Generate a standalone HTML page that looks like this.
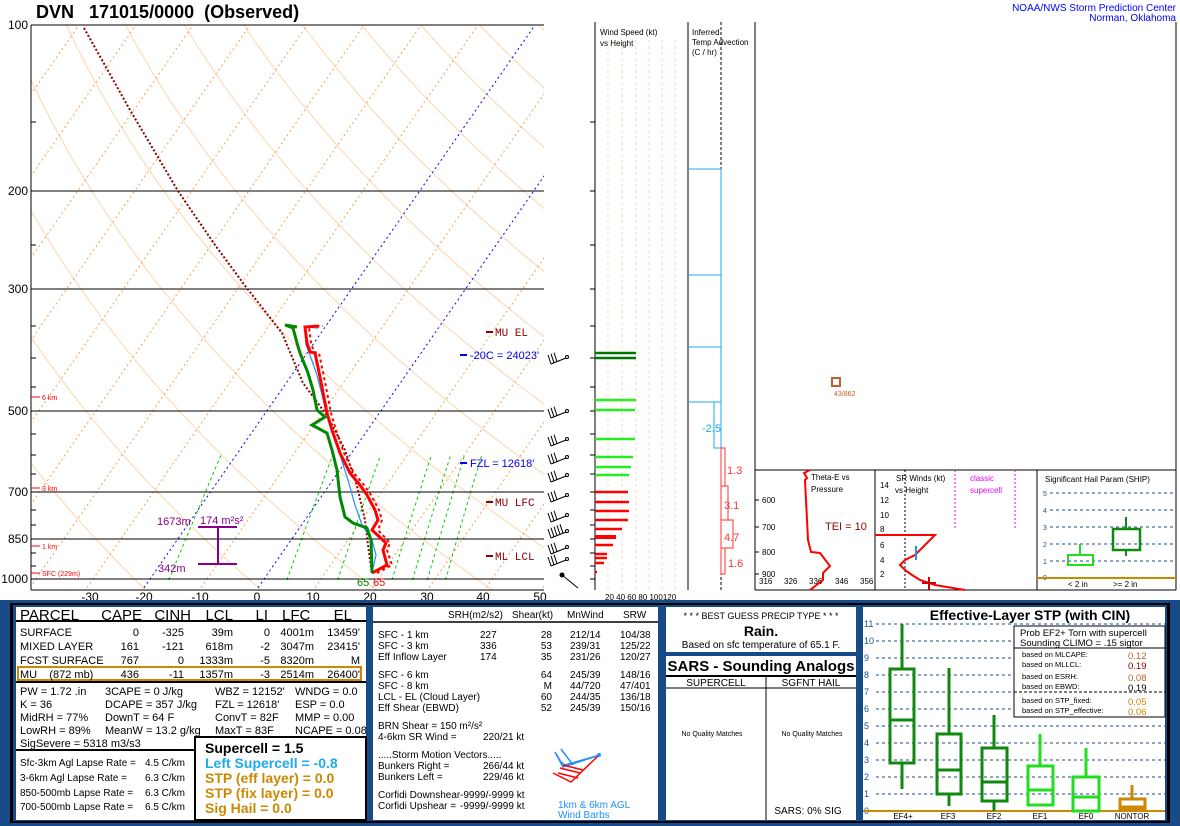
<!DOCTYPE html>
<html><head><meta charset="utf-8">
<style>
html,body{margin:0;padding:0;background:#fff;}
svg{display:block;font-family:"Liberation Sans",sans-serif;}
</style></head>
<body>
<svg id="s" width="1180" height="826" viewBox="0 0 1180 826" xmlns="http://www.w3.org/2000/svg">
<rect width="1180" height="826" fill="#fff"/>
<defs><clipPath id="skc"><rect x="31" y="25" width="513" height="565"/></clipPath></defs>
<g id="grid" clip-path="url(#skc)"></g>

<g stroke="#000" stroke-width="1">
<line x1="31" y1="191" x2="544" y2="191"/>
<line x1="31" y1="289" x2="544" y2="289"/>
<line x1="31" y1="411" x2="544" y2="411"/>
<line x1="31" y1="492" x2="544" y2="492"/>
<line x1="31" y1="539" x2="544" y2="539"/>
<line x1="31" y1="579" x2="544" y2="579"/>
<line x1="31" y1="25" x2="544" y2="25"/>
<line x1="31" y1="25" x2="31" y2="590"/>
<line x1="31" y1="590" x2="544" y2="590"/>
<line x1="31" y1="122" x2="36" y2="122"/><line x1="31" y1="245" x2="36" y2="245"/>
<line x1="31" y1="326" x2="36" y2="326"/><line x1="31" y1="358" x2="36" y2="358"/>
<line x1="31" y1="387" x2="36" y2="387"/><line x1="31" y1="434" x2="36" y2="434"/>
<line x1="31" y1="455" x2="36" y2="455"/><line x1="31" y1="474" x2="36" y2="474"/>
<line x1="31" y1="510" x2="36" y2="510"/><line x1="31" y1="525" x2="36" y2="525"/>
<line x1="31" y1="553" x2="36" y2="553"/><line x1="31" y1="566" x2="36" y2="566"/>
</g>
<g font-size="12" fill="#000" text-anchor="end">
<text x="28" y="29">100</text><text x="28" y="195">200</text><text x="28" y="293">300</text>
<text x="28" y="415">500</text><text x="28" y="496">700</text><text x="28" y="543">850</text><text x="28" y="583">1000</text>
</g>
<g font-size="12" fill="#000" text-anchor="middle">
<text x="90" y="601">-30</text><text x="144" y="601">-20</text><text x="200" y="601">-10</text>
<text x="257" y="601">0</text><text x="313" y="601">10</text><text x="370" y="601">20</text>
<text x="427" y="601">30</text><text x="483" y="601">40</text><text x="540" y="601">50</text>
</g>
<text x="36" y="18" font-size="18" font-weight="bold" xml:space="preserve">DVN   171015/0000  (Observed)</text>
<text x="1176" y="11" font-size="10" fill="#0000ff" text-anchor="end">NOAA/NWS Storm Prediction Center</text>
<text x="1176" y="21" font-size="10" fill="#0000ff" text-anchor="end">Norman, Oklahoma</text>

<g stroke="#ff0000" stroke-width="1"><line x1="31" y1="397" x2="40" y2="397"/><line x1="31" y1="488" x2="40" y2="488"/><line x1="31" y1="546" x2="40" y2="546"/><line x1="31" y1="573" x2="40" y2="573"/></g>
<g font-size="7" fill="#ff0000"><text x="42" y="400">6 km</text><text x="42" y="491">3 km</text><text x="42" y="549">1 km</text><text x="42" y="576">SFC (229m)</text></g>

<g stroke="#880088" stroke-width="2"><line x1="198" y1="527" x2="237" y2="527"/><line x1="198" y1="564" x2="237" y2="564"/><line x1="218" y1="527" x2="218" y2="564"/></g>
<g font-size="11" fill="#880088"><text x="157" y="525">1673m</text><text x="200" y="524">174 m²s²</text><text x="158" y="572">342m</text></g>

<polyline fill="none" stroke="#8b0000" stroke-width="2" stroke-dasharray="2,2" points="84,28 130,110 178,191 215,245 246,287 282,333 303,383 328,417 345,450 357,486 365,520 368,545 371,567"/>
<polyline fill="none" stroke="#ff0000" stroke-width="2" stroke-dasharray="3,3" points="377,573 392,565 387,550 390,543 378,530 382,520 379,510 371,495 364,485 354,473 344,453 336,430 331,413 324,377 319,353 314,352 311,343 309,327 323,326"/>
<polyline fill="none" stroke="#1e90ff" stroke-width="1.2" points="372,573 376,555 372,540 362,525 355,505 348,480 340,455 333,430 326,412 322,395 317,375 310,355 306,345 305,327 318,328"/>
<polyline fill="none" stroke="#ff0000" stroke-width="3" points="372,573 387,565 383,550 386,543 372,530 378,520 375,510 367,495 360,485 350,473 340,453 332,430 327,413 320,377 315,353 310,352 307,343 305,327 319,326"/>
<polyline fill="none" stroke="#008800" stroke-width="3" points="372,573 371,540 367,528 353,523 345,517 340,497 337,470 332,450 327,433 312,425 325,417 317,410 313,390 308,373 300,353 297,343 293,328 285,325 297,327"/>
<text x="357" y="586" font-size="11" fill="#008800">65</text><text x="373" y="586" font-size="11" fill="#ff0000">65</text>

<g font-size="11" font-family="Liberation Mono,monospace">
<line x1="486" y1="332" x2="493" y2="332" stroke="#8b0000" stroke-width="2"/><text x="495" y="336" fill="#8b0000">MU EL</text>
<line x1="460" y1="355" x2="467" y2="355" stroke="#0000ff" stroke-width="2"/><text x="470" y="359" fill="#0000ff" font-family="Liberation Sans,sans-serif">-20C = 24023'</text>
<line x1="460" y1="463" x2="467" y2="463" stroke="#0000ff" stroke-width="2"/><text x="470" y="467" fill="#0000ff" font-family="Liberation Sans,sans-serif">FZL = 12618'</text>
<line x1="486" y1="502" x2="493" y2="502" stroke="#8b0000" stroke-width="2"/><text x="495" y="506" fill="#8b0000">MU LFC</text>
<line x1="486" y1="556" x2="493" y2="556" stroke="#8b0000" stroke-width="2"/><text x="495" y="560" fill="#8b0000">ML LCL</text>
</g>

<g id="barbs" stroke="#000" stroke-width="1" fill="none"></g>

<line x1="595" y1="22" x2="595" y2="590" stroke="#000"/>
<line x1="688" y1="22" x2="688" y2="590" stroke="#000"/>
<line x1="755" y1="22" x2="755" y2="590" stroke="#000"/>
<line x1="1176" y1="22" x2="1176" y2="590" stroke="#000"/>
<g stroke="#f8d8b0" stroke-dasharray="3,3"><line x1="608" y1="40" x2="608" y2="590"/><line x1="622" y1="40" x2="622" y2="590"/><line x1="636" y1="40" x2="636" y2="590"/><line x1="649" y1="40" x2="649" y2="590"/><line x1="662" y1="40" x2="662" y2="590"/><line x1="675" y1="40" x2="675" y2="590"/></g>
<text x="600" y="35" font-size="8">Wind Speed (kt)</text><text x="600" y="46" font-size="8">vs Height</text>
<text x="605" y="600" font-size="8">20 40 60 80 100120</text>
<g stroke="#000"><line x1="590" y1="122" x2="595" y2="122"/><line x1="590" y1="191" x2="595" y2="191"/><line x1="590" y1="245" x2="595" y2="245"/><line x1="590" y1="289" x2="595" y2="289"/><line x1="590" y1="326" x2="595" y2="326"/><line x1="590" y1="358" x2="595" y2="358"/><line x1="590" y1="387" x2="595" y2="387"/><line x1="590" y1="411" x2="595" y2="411"/><line x1="590" y1="434" x2="595" y2="434"/><line x1="590" y1="455" x2="595" y2="455"/><line x1="590" y1="474" x2="595" y2="474"/><line x1="590" y1="492" x2="595" y2="492"/><line x1="590" y1="510" x2="595" y2="510"/><line x1="590" y1="525" x2="595" y2="525"/><line x1="590" y1="539" x2="595" y2="539"/><line x1="590" y1="553" x2="595" y2="553"/><line x1="590" y1="566" x2="595" y2="566"/><line x1="590" y1="579" x2="595" y2="579"/></g>
<g stroke-width="2.5">
<line x1="595" y1="353" x2="636" y2="353" stroke="#007700"/><line x1="595" y1="358" x2="636" y2="358" stroke="#007700"/>
<g stroke="#22ee22"><line x1="595" y1="400" x2="636" y2="400"/><line x1="595" y1="410" x2="635" y2="410"/><line x1="595" y1="439" x2="635" y2="439"/><line x1="595" y1="457" x2="633" y2="457"/><line x1="595" y1="467" x2="631" y2="467"/><line x1="595" y1="475" x2="629" y2="475"/></g>
<g stroke="#ff0000"><line x1="595" y1="492" x2="628" y2="492"/><line x1="595" y1="502" x2="629" y2="502"/><line x1="595" y1="511" x2="629" y2="511"/><line x1="595" y1="520" x2="628" y2="520"/><line x1="595" y1="529" x2="622" y2="529"/><line x1="595" y1="537" x2="616" y2="537" stroke-width="4"/><line x1="595" y1="545" x2="613" y2="545"/><line x1="595" y1="554" x2="607" y2="554"/><line x1="595" y1="558" x2="607" y2="558"/><line x1="595" y1="563" x2="604" y2="563"/><line x1="595" y1="572" x2="597" y2="572"/></g>
</g>

<text x="692" y="35" font-size="8">Inferred</text><text x="692" y="45" font-size="8">Temp Advection</text><text x="692" y="55" font-size="8">(C / hr)</text>
<line x1="721" y1="22" x2="721" y2="590" stroke="#000" stroke-dasharray="3,2"/>
<g fill="none" stroke="#1eaaee" stroke-width="1">
<polyline points="688,169 721,169 721,448"/>
<line x1="688" y1="275" x2="721" y2="275"/><line x1="688" y1="347" x2="721" y2="347"/><line x1="688" y1="402" x2="721" y2="402"/>
<polyline points="721,402 714,402 714,448 721,448"/>
</g>
<text x="702" y="432" font-size="11" fill="#1eaaee">-2.5</text>
<g fill="none" stroke="#ff3333" stroke-width="1">
<rect x="721" y="448" width="4" height="38"/><rect x="721" y="486" width="7" height="34"/><rect x="721" y="520" width="12" height="28"/><rect x="721" y="548" width="4" height="26"/>
</g>
<g font-size="11" fill="#ff3333"><text x="727" y="474">1.3</text><text x="724" y="509">3.1</text><text x="724" y="541">4.7</text><text x="728" y="567">1.6</text></g>

<rect x="832" y="378" width="8" height="8" fill="none" stroke="#c0602c" stroke-width="2"/>
<text x="834" y="396" font-size="7" fill="#c0602c">43/862</text>
<line x1="755" y1="470" x2="1176" y2="470" stroke="#000"/>
<line x1="875" y1="470" x2="875" y2="590" stroke="#000"/>
<line x1="1037" y1="470" x2="1037" y2="590" stroke="#000"/>
<line x1="755" y1="590" x2="1176" y2="590" stroke="#000"/>
<g font-size="8"><text x="811" y="480">Theta-E vs</text><text x="811" y="492">Pressure</text>
<text x="762" y="503">600</text><text x="762" y="530">700</text><text x="762" y="555">800</text><text x="762" y="577">900</text>
<text x="759" y="584">316</text><text x="784" y="584">326</text><text x="809" y="584">336</text><text x="835" y="584">346</text><text x="860" y="584">356</text></g>
<g stroke="#000"><line x1="755" y1="500" x2="759" y2="500"/><line x1="755" y1="527" x2="759" y2="527"/><line x1="755" y1="552" x2="759" y2="552"/><line x1="755" y1="574" x2="759" y2="574"/></g>
<polyline fill="none" stroke="#ff0000" stroke-width="2" points="810,470 804,473 807,478 805,480 806,500 808,540 811,552 820,553 830,566 823,573 823,580 810,590"/>
<text x="825" y="530" font-size="11" fill="#8b0000">TEI = 10</text>
<g font-size="8"><text x="896" y="481">SR Winds (kt)</text><text x="895" y="493">vs Height</text>
<text x="880" y="488">14</text><text x="880" y="503">12</text><text x="880" y="518">10</text><text x="880" y="532">8</text><text x="880" y="548">6</text><text x="880" y="563">4</text><text x="880" y="577">2</text></g>
<text x="970" y="481" font-size="8" fill="#ee00ee">classic</text><text x="970" y="493" font-size="8" fill="#ee00ee">supercell</text>
<line x1="905" y1="470" x2="905" y2="590" stroke="#000" stroke-dasharray="2,2"/>
<line x1="955" y1="470" x2="955" y2="530" stroke="#ee00ee" stroke-dasharray="2,2"/>
<line x1="1015" y1="470" x2="1015" y2="530" stroke="#ee00ee" stroke-dasharray="2,2"/>
<polyline fill="none" stroke="#ff0000" stroke-width="2" points="875,535 935,535 922,548 915,555 905,560 900,565 905,570 912,575 920,580 935,585 965,590"/>
<line x1="916" y1="546" x2="916" y2="560" stroke="#1e90ff" stroke-width="2"/>
<line x1="929" y1="577" x2="929" y2="590" stroke="#cc0000" stroke-width="2"/><line x1="922" y1="583" x2="936" y2="583" stroke="#cc0000" stroke-width="2"/>
<text x="1045" y="482" font-size="8">Significant Hail Param (SHIP)</text>
<g stroke="#1a4e8a" stroke-dasharray="3,3"><line x1="1050" y1="493" x2="1176" y2="493"/><line x1="1050" y1="510" x2="1176" y2="510"/><line x1="1050" y1="527" x2="1176" y2="527"/><line x1="1050" y1="544" x2="1176" y2="544"/><line x1="1050" y1="561" x2="1176" y2="561"/></g>
<g font-size="7" fill="#1a4e8a"><text x="1043" y="496">5</text><text x="1043" y="513">4</text><text x="1043" y="530">3</text><text x="1043" y="547">2</text><text x="1043" y="564">1</text><text x="1043" y="580">0</text></g>
<line x1="1037" y1="578" x2="1176" y2="578" stroke="#cc8800" stroke-width="2"/>
<rect x="1068" y="555" width="25" height="10" fill="none" stroke="#22dd22" stroke-width="2"/><line x1="1080" y1="544" x2="1080" y2="555" stroke="#22dd22" stroke-width="2"/>
<rect x="1113" y="529" width="27" height="21" fill="none" stroke="#118811" stroke-width="2.5"/><line x1="1126" y1="517" x2="1126" y2="529" stroke="#118811" stroke-width="2"/><line x1="1126" y1="550" x2="1126" y2="556" stroke="#118811" stroke-width="2"/>
<text x="1068" y="587" font-size="8">&lt; 2 in</text><text x="1113" y="587" font-size="8">&gt;= 2 in</text>

<rect x="0" y="600" width="1180" height="226" fill="#174a86"/>
<rect x="10" y="603" width="1160" height="220" fill="#000"/>
<rect x="13" y="605" width="1154" height="216" fill="#174a86"/>
<rect x="16" y="607" width="350" height="213" fill="#fff"/>
<line x1="16" y1="621" x2="366" y2="621" stroke="#000" stroke-width="2"/>
<line x1="16" y1="682" x2="366" y2="682" stroke="#000" stroke-width="2"/>
<line x1="16" y1="750" x2="195" y2="750" stroke="#000" stroke-width="2"/>
<rect x="195" y="737" width="171" height="83" fill="#fff" stroke="#000" stroke-width="2"/>
<rect x="18" y="667" width="343" height="13" fill="none" stroke="#cc8800" stroke-width="2"/>
<g font-size="15"><text x="20" y="620">PARCEL</text><text x="142" y="620" text-anchor="end">CAPE</text><text x="191" y="620" text-anchor="end">CINH</text><text x="233" y="620" text-anchor="end">LCL</text><text x="268" y="620" text-anchor="end">LI</text><text x="282" y="620">LFC</text><text x="352" y="620" text-anchor="end">EL</text></g>
<g font-size="11">
<text x="20" y="636">SURFACE</text><text x="20" y="650">MIXED LAYER</text><text x="20" y="664">FCST SURFACE</text><text x="20" y="678" xml:space="preserve">MU    (872 mb)</text>
<g text-anchor="end">
<text x="139" y="636">0</text><text x="184" y="636">-325</text><text x="233" y="636">39m</text><text x="270" y="636">0</text><text x="314" y="636">4001m</text><text x="360" y="636">13459'</text>
<text x="139" y="650">161</text><text x="184" y="650">-121</text><text x="233" y="650">618m</text><text x="270" y="650">-2</text><text x="314" y="650">3047m</text><text x="360" y="650">23415'</text>
<text x="139" y="664">767</text><text x="184" y="664">0</text><text x="233" y="664">1333m</text><text x="270" y="664">-5</text><text x="314" y="664">8320m</text><text x="360" y="664">M</text>
<text x="139" y="678">436</text><text x="184" y="678">-11</text><text x="233" y="678">1357m</text><text x="270" y="678">-3</text><text x="314" y="678">2514m</text><text x="360" y="678">26400'</text>
</g>
<text x="20" y="695">PW = 1.72 .in</text><text x="105" y="695">3CAPE = 0 J/kg</text><text x="215" y="695">WBZ = 12152'</text><text x="295" y="695">WNDG = 0.0</text>
<text x="20" y="708">K = 36</text><text x="105" y="708">DCAPE = 357 J/kg</text><text x="215" y="708">FZL = 12618'</text><text x="295" y="708">ESP = 0.0</text>
<text x="20" y="721">MidRH = 77%</text><text x="105" y="721">DownT = 64 F</text><text x="215" y="721">ConvT = 82F</text><text x="295" y="721">MMP = 0.00</text>
<text x="20" y="734">LowRH = 89%</text><text x="105" y="734">MeanW = 13.2 g/kg</text><text x="215" y="734">MaxT = 83F</text><text x="295" y="734">NCAPE = 0.08</text>
<text x="20" y="747">SigSevere = 5318 m3/s3</text>
</g>
<g font-size="10">
<text x="20" y="766">Sfc-3km Agl Lapse Rate =</text><text x="145" y="766">4.5 C/km</text>
<text x="20" y="781">3-6km Agl Lapse Rate =</text><text x="145" y="781">6.3 C/km</text>
<text x="20" y="796">850-500mb Lapse Rate =</text><text x="145" y="796">6.3 C/km</text>
<text x="20" y="810">700-500mb Lapse Rate =</text><text x="145" y="810">6.5 C/km</text>
</g>
<g font-size="14" font-weight="bold">
<text x="205" y="753">Supercell = 1.5</text>
<text x="205" y="768" fill="#1eaaee">Left Supercell = -0.8</text>
<text x="205" y="783" fill="#cc8800">STP (eff layer) = 0.0</text>
<text x="205" y="798" fill="#cc8800">STP (fix layer) = 0.0</text>
<text x="205" y="813" fill="#cc8800">Sig Hail = 0.0</text>
</g>

<rect x="373" y="607" width="285" height="213" fill="#fff"/>
<line x1="373" y1="622" x2="658" y2="622" stroke="#000" stroke-width="1.5"/>
<g font-size="10">
<text x="448" y="618">SRH(m2/s2)</text><text x="512" y="618">Shear(kt)</text><text x="567" y="618">MnWind</text><text x="623" y="618">SRW</text>
<text x="378" y="638">SFC - 1 km</text><text x="480" y="638">227</text><text x="552" y="638" text-anchor="end">28</text><text x="570" y="638">212/14</text><text x="620" y="638">104/38</text>
<text x="378" y="649">SFC - 3 km</text><text x="480" y="649">336</text><text x="552" y="649" text-anchor="end">53</text><text x="570" y="649">239/31</text><text x="620" y="649">125/22</text>
<text x="378" y="660">Eff Inflow Layer</text><text x="480" y="660">174</text><text x="552" y="660" text-anchor="end">35</text><text x="570" y="660">231/26</text><text x="620" y="660">120/27</text>
<text x="378" y="678">SFC - 6 km</text><text x="552" y="678" text-anchor="end">64</text><text x="570" y="678">245/39</text><text x="620" y="678">148/16</text>
<text x="378" y="689">SFC - 8 km</text><text x="552" y="689" text-anchor="end">M</text><text x="570" y="689">44/720</text><text x="620" y="689">47/401</text>
<text x="378" y="700">LCL - EL (Cloud Layer)</text><text x="552" y="700" text-anchor="end">60</text><text x="570" y="700">244/35</text><text x="620" y="700">136/18</text>
<text x="378" y="711">Eff Shear (EBWD)</text><text x="552" y="711" text-anchor="end">52</text><text x="570" y="711">245/39</text><text x="620" y="711">150/16</text>
<text x="378" y="729">BRN Shear =  150 m²/s²</text>
<text x="378" y="740">4-6km SR Wind =</text><text x="483" y="740">220/21 kt</text>
<text x="378" y="758">.....Storm Motion Vectors.....</text>
<text x="378" y="769">Bunkers Right =</text><text x="483" y="769">266/44 kt</text>
<text x="378" y="780">Bunkers Left =</text><text x="483" y="780">229/46 kt</text>
<text x="378" y="798">Corfidi Downshear</text><text x="460" y="798">-9999/-9999 kt</text>
<text x="378" y="809">Corfidi Upshear =</text><text x="460" y="809">-9999/-9999 kt</text>
<text x="558" y="808" fill="#1e90ff">1km &amp; 6km AGL</text><text x="558" y="818" fill="#1e90ff">Wind Barbs</text>
</g>
<g fill="none" stroke-width="1.5">
<polyline stroke="#1e90ff" points="555,752 563,767 600,755 565,765 561,762 555,752"/>
<line x1="561" y1="749" x2="573" y2="765" stroke="#1e90ff"/>
<polyline stroke="#ff0000" points="598,756 571,782 553,773"/>
<line x1="560" y1="768" x2="580" y2="773" stroke="#ff0000"/><line x1="558" y1="773" x2="578" y2="778" stroke="#ff0000"/><line x1="563" y1="765" x2="583" y2="770" stroke="#ff0000"/>
</g>
<circle cx="599" cy="755" r="2" fill="#1e90ff"/>

<rect x="666" y="607" width="190" height="45" fill="#fff"/>
<g text-anchor="middle"><text x="761" y="619" font-size="9">* * * BEST GUESS PRECIP TYPE * * *</text>
<text x="761" y="636" font-size="14" font-weight="bold">Rain.</text>
<text x="761" y="648" font-size="10">Based on sfc temperature of 65.1 F.</text></g>
<rect x="666" y="656" width="190" height="164" fill="#fff"/>
<line x1="666" y1="676" x2="856" y2="676" stroke="#000" stroke-width="2"/>
<line x1="666" y1="688" x2="856" y2="688" stroke="#000"/>
<line x1="766" y1="676" x2="766" y2="820" stroke="#000"/>
<g text-anchor="middle"><text x="761" y="671" font-size="15" font-weight="bold">SARS - Sounding Analogs</text>
<text x="716" y="686" font-size="10">SUPERCELL</text><text x="811" y="686" font-size="10">SGFNT HAIL</text>
<text x="712" y="736" font-size="7">No Quality Matches</text><text x="812" y="736" font-size="7">No Quality Matches</text>
<text x="808" y="814" font-size="10">SARS:  0% SIG</text></g>

<rect x="863" y="607" width="302" height="213" fill="#fff"/>
<text x="1030" y="620" font-size="14" font-weight="bold" text-anchor="middle">Effective-Layer STP (with CIN)</text>
<g id="stpgrid" stroke="#1a4e8a" stroke-dasharray="3,3"></g>
<g id="stplab" font-size="9" fill="#1a4e8a"></g>
<rect x="1014" y="626" width="151" height="91" fill="#fff" stroke="#000"/>
<line x1="1014" y1="648" x2="1165" y2="648" stroke="#000"/>
<line x1="1014" y1="692" x2="1165" y2="692" stroke="#000" stroke-dasharray="3,2"/>
<g font-size="9.5"><text x="1020" y="636">Prob EF2+ Torn with supercell</text><text x="1020" y="646">Sounding CLIMO = .15 sigtor</text></g>
<g font-size="7.5"><text x="1022" y="657">based on MLCAPE:</text><text x="1022" y="667">based on MLLCL:</text><text x="1022" y="679">based on ESRH:</text><text x="1022" y="689">based on EBWD:</text><text x="1022" y="703">based on STP_fixed:</text><text x="1022" y="713">based on STP_effective:</text></g>
<g font-size="9.5"><text x="1128" y="659" fill="#c0602c">0.12</text><text x="1128" y="669" fill="#8b0000">0.19</text><text x="1128" y="681" fill="#c0602c">0.08</text><text x="1128" y="691">0.19</text><text x="1128" y="705" fill="#cc8800">0.05</text><text x="1128" y="715" fill="#cc8800">0.06</text></g>
<line x1="863" y1="811" x2="1165" y2="811" stroke="#cc8800" stroke-width="2"/>
<g fill="none" stroke-width="3">
<g stroke="#118811">
<rect x="890" y="669" width="24" height="94"/><line x1="890" y1="720" x2="914" y2="720"/><line x1="902" y1="624" x2="902" y2="669"/><line x1="902" y1="763" x2="902" y2="789"/>
<rect x="937" y="734" width="24" height="60"/><line x1="937" y1="770" x2="961" y2="770"/><line x1="949" y1="668" x2="949" y2="734"/><line x1="949" y1="794" x2="949" y2="806"/>
<rect x="982" y="748" width="25" height="53"/><line x1="982" y1="782" x2="1007" y2="782"/><line x1="994" y1="715" x2="994" y2="748"/><line x1="994" y1="801" x2="994" y2="811"/>
</g>
<g stroke="#22dd22">
<rect x="1028" y="766" width="25" height="39"/><line x1="1028" y1="790" x2="1053" y2="790"/><line x1="1040" y1="734" x2="1040" y2="766"/>
<rect x="1073" y="777" width="26" height="34"/><line x1="1073" y1="797" x2="1099" y2="797"/><line x1="1086" y1="748" x2="1086" y2="777"/>
</g>
<g stroke="#cc8800"><rect x="1120" y="799" width="25" height="11"/><line x1="1120" y1="807" x2="1145" y2="807"/><line x1="1132" y1="785" x2="1132" y2="799"/></g>
</g>
<g font-size="8" text-anchor="middle"><text x="903" y="819">EF4+</text><text x="948" y="819">EF3</text><text x="994" y="819">EF2</text><text x="1040" y="819">EF1</text><text x="1086" y="819">EF0</text><text x="1132" y="819">NONTOR</text></g>
</svg>
<script>
(function(){
var NS="http://www.w3.org/2000/svg";
function el(p,t,a){var e=document.createElementNS(NS,t);for(var k in a)e.setAttribute(k,a[k]);p.appendChild(e);return e;}
function Y(p){return 25+240*Math.log(p/100);}
function X(T,y){return 264+5.7*T+0.695*(579-y);}
var g=document.getElementById('grid');
for(var th=230;th<=520;th+=20){var pts=[];for(var p=1050;p>=100;p-=10){var T=th*Math.pow(p/1000,0.2857)-273.15;var y=Y(p);pts.push(X(T,y).toFixed(1)+","+y.toFixed(1));}
el(g,'polyline',{points:pts.join(' '),fill:'none',stroke:'#fcdcb8','stroke-width':1.2});}
for(var T=-120;T<=50;T+=10){var y1=600,y2=20;var c=(T==-20||T==0)?'#0000ff':'#f4a050';
el(g,'line',{x1:X(T,y1),y1:y1,x2:X(T,y2),y2:y2,stroke:c,'stroke-width':1,'stroke-dasharray':'2,3'});}
var Ts=[-16.7,4,12.9,22.4,26,28.6,31.8];
Ts.forEach(function(T0){var e0=6.112*Math.exp(17.67*T0/(T0+243.5));var w=622*e0/(1000-e0);var pts=[];
for(var p=1010;p>=600;p-=10){var e=w*p/(622+w);var l=Math.log(e/6.112);var T=243.5*l/(17.67-l);var y=Y(p);pts.push(X(T,y).toFixed(1)+","+y.toFixed(1));}
el(g,'polyline',{points:pts.join(' '),fill:'none',stroke:'#00cc00','stroke-width':1,'stroke-dasharray':'3,3'});});
var b=document.getElementById('barbs');
[357,411,439,457,475,495,515,531,547,559].forEach(function(y,i){
el(b,'circle',{cx:567,cy:y,r:1.5});
el(b,'line',{x1:566,y1:y+1,x2:551,y2:y+7});
var n=(i==7)?5:3;for(var k=0;k<n;k++){var sx=551+k*3,sy=y+7-k*1.2;el(b,'line',{x1:sx,y1:sy,x2:sx-3,y2:sy-9});}
});
el(b,'circle',{cx:562,cy:575,r:2,fill:'#000'});el(b,'line',{x1:562,y1:575,x2:578,y2:588});
var sg=document.getElementById('stpgrid'),sl=document.getElementById('stplab');
for(var n=0;n<=11;n++){var y=811-17*n;if(n>0)el(sg,'line',{x1:876,y1:y,x2:1165,y2:y});var t=el(sl,'text',{x:864,y:y+3});t.textContent=n;}
})();
</script>
</body></html>
